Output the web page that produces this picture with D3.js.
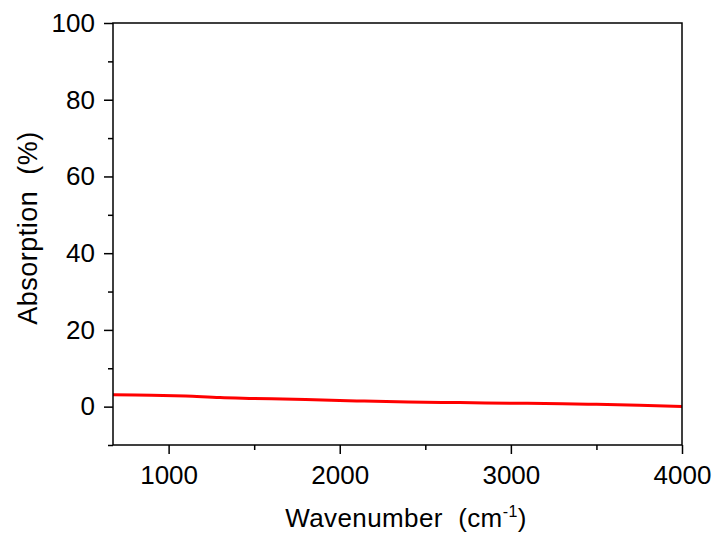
<!DOCTYPE html>
<html>
<head>
<meta charset="utf-8">
<script src="https://cdn.jsdelivr.net/npm/d3@7"></script>
<style>
  body { margin: 0; background: #fff; }
  text { font-family: "Liberation Sans", Arial, sans-serif; fill: #000; }
</style>
</head>
<body>
<div id="chart"></div>
<script>
// Datos
const wavenumber = [675, 900, 1100, 1300, 1500, 1800, 2100, 2400, 2700, 3000, 3300, 3500, 3750, 4000];
const absorption = [3.1, 3.0, 2.75, 2.35, 2.15, 1.85, 1.5, 1.2, 1.05, 0.9, 0.75, 0.6, 0.35, 0.05];
const xTicks = [1000, 2000, 3000, 4000];
const yTicks = [0, 20, 40, 60, 80, 100];

const W = 717, H = 536;
const margin = { top: 23, right: 35, bottom: 91, left: 113 };
const width = W - margin.left - margin.right;
const height = H - margin.top - margin.bottom;

const svg = d3.select("#chart").append("svg")
    .attr("width", W).attr("height", H);

const g = svg.append("g")
    .attr("transform", `translate(${margin.left},${margin.top})`);

const x = d3.scaleLinear().domain([675, 4000]).range([0, width]);
const y = d3.scaleLinear().domain([-10, 100]).range([height, 0]);

// Línea
const data = wavenumber.map((w, i) => ({ w: w, a: absorption[i] }));
const line = d3.line().x(d => x(d.w)).y(d => y(d.a)).curve(d3.curveMonotoneX);

g.append("path")
    .datum(data)
    .attr("d", line)
    .style("fill", "none")
    .style("stroke", "#ff0000")
    .style("stroke-width", 3);

// Marco
g.append("rect")
    .attr("width", width).attr("height", height)
    .style("fill", "none").style("stroke", "#000").style("stroke-width", 1.5);

// Eje X
g.append("g")
    .attr("transform", `translate(0,${height})`)
    .call(d3.axisBottom(x).tickValues(xTicks).tickSize(9).tickPadding(12).tickFormat(d3.format("d")));
g.append("g")
    .attr("transform", `translate(0,${height})`)
    .call(d3.axisBottom(x).tickValues([1500, 2500, 3500]).tickSize(5).tickFormat(""));

// Eje Y
g.append("g")
    .call(d3.axisLeft(y).tickValues(yTicks).tickSize(9).tickPadding(9));
g.append("g")
    .call(d3.axisLeft(y).tickValues([-10, 10, 30, 50, 70, 90]).tickSize(5).tickFormat(""));

g.selectAll(".domain").remove();
g.selectAll(".tick line").style("stroke", "#000").style("stroke-width", 1.5);
g.selectAll(".tick text").style("font-size", "26px").style("font-family", '"Liberation Sans", Arial, sans-serif');

// Etiquetas de ejes
const xt = svg.append("text")
    .attr("x", 406)
    .attr("y", 527)
    .attr("text-anchor", "middle")
    .style("font-size", "26px")
    .style("letter-spacing", "0.4px")
    .style("white-space", "pre");
xt.append("tspan").text("Wavenumber  (cm");
xt.append("tspan").attr("dy", -10).style("font-size", "16px").text("-1");
xt.append("tspan").attr("dy", 10).text(")");

svg.append("text")
    .attr("transform", "rotate(-90)")
    .attr("x", -228)
    .attr("y", 37)
    .attr("text-anchor", "middle")
    .style("font-size", "27px")
    .style("letter-spacing", "0.5px")
    .style("white-space", "pre")
    .text("Absorption  (%)");
</script>
</body>
</html>
